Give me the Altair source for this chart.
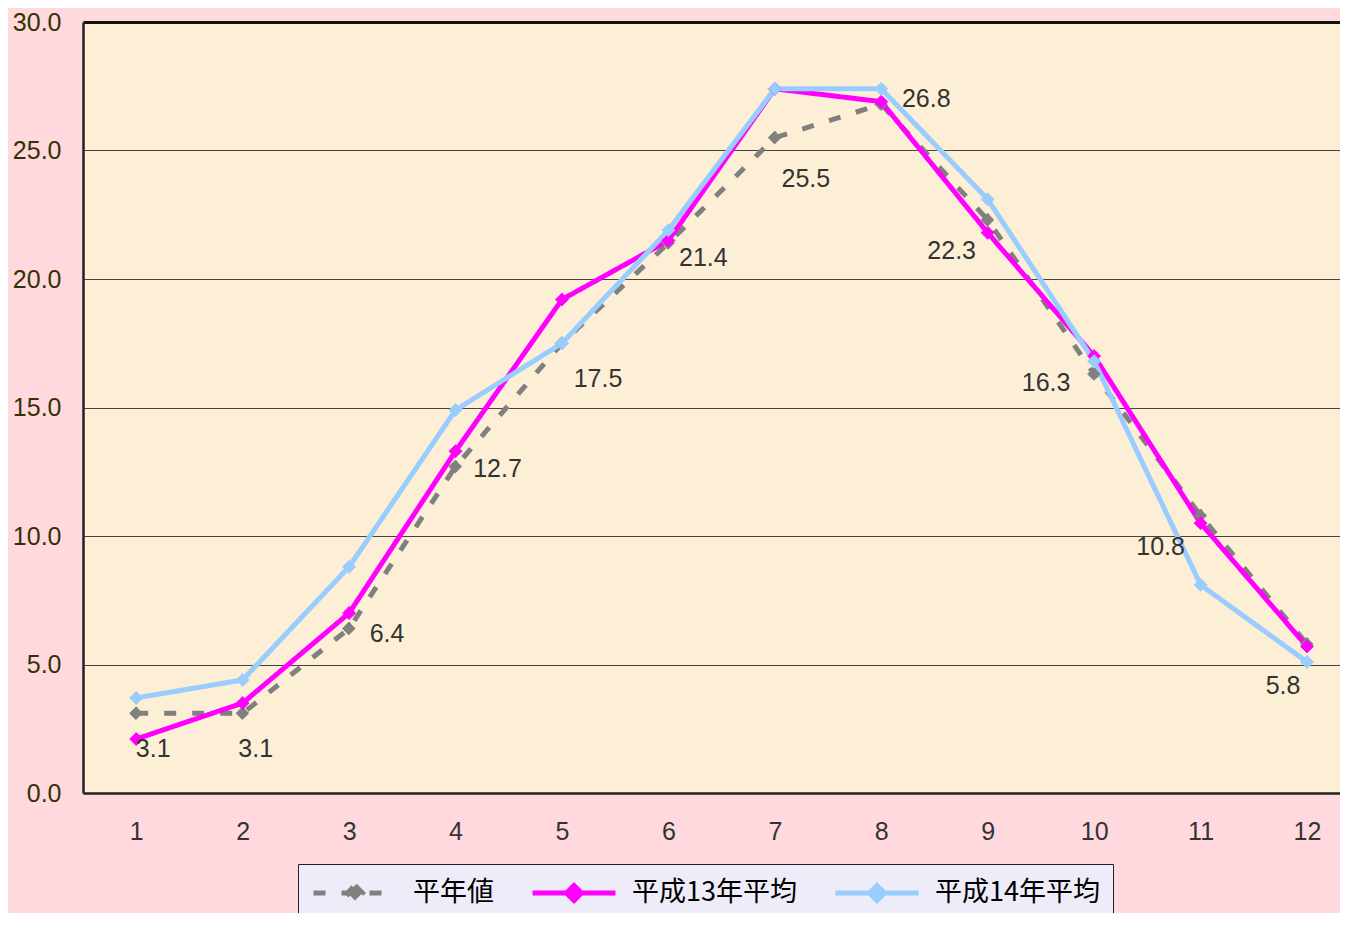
import altair as alt
import pandas as pd

# ---- data ----
months = list(range(1, 13))
series_names = ["平年値", "平成13年平均", "平成14年平均"]
normal = [3.1, 3.1, 6.4, 12.7, 17.5, 21.4, 25.5, 26.8, 22.3, 16.3, 10.8, 5.8]
h13 = [2.1, 3.5, 7.0, 13.3, 19.2, 21.5, 27.4, 26.9, 21.8, 17.0, 10.5, 5.7]
h14 = [3.7, 4.4, 8.8, 14.9, 17.5, 21.9, 27.4, 27.4, 23.1, 16.8, 8.1, 5.1]
y_ticks = [0, 5, 10, 15, 20, 25, 30]

rows = []
for name, vals in zip(series_names, [normal, h13, h14]):
    for m, v in zip(months, vals):
        rows.append({"month": m, "temp": v, "series": name})
df = pd.DataFrame(rows)
df_norm = pd.DataFrame({"month": months, "temp": normal})

# ---- style ----
colors = ["#808080", "#FF00FF", "#99CCFF"]
dashes = [[12, 16], [1, 0], [1, 0]]
label_offsets = [(17, 36), (13, 36), (38, 5), (42, 2), (36, 36), (35, 15),
                 (31, 41), (45, -5), (-36, 31), (-48, 9), (-40, 32), (-24, 42)]
FONT = "Liberation Sans, Arial, 'Noto Sans CJK JP'"
LEGFONT = "'Noto Sans CJK JP', Liberation Sans"

leg = alt.Legend(
    title=None, orient="none", legendX=215, legendY=842, direction="horizontal",
    symbolType="M-1,0L1,0M0,-0.18L0.18,0L0,0.18L-0.18,0Z",
    symbolSize=6889, symbolStrokeWidth=5, clipHeight=32,
    labelFont=LEGFONT, labelFontSize=27, labelColor="#000000",
    labelOffset=14, columnPadding=36, padding=13,
    fillColor="#EEECF8", strokeColor="#222222", labelLimit=400,
)

color_scale = alt.Scale(domain=series_names, range=colors)
dash_scale = alt.Scale(domain=series_names, range=dashes)

x_enc = alt.X("month:Q", scale=alt.Scale(domain=[0.5, 12.31], nice=False, zero=False),
              axis=alt.Axis(values=months, format="d", title=None, grid=False, ticks=False,
                            labelFont=FONT, labelFontSize=25, labelColor="#333333",
                            labelPadding=26, domainColor="#222222", domainWidth=2.5))
y_enc = alt.Y("temp:Q", scale=alt.Scale(domain=[0, 30], nice=False),
              axis=alt.Axis(values=y_ticks, format=".1f", title=None, ticks=False,
                            labelFont=FONT, labelFontSize=25, labelColor="#333300",
                            labelPadding=22, domainColor="#222222", domainWidth=2.5,
                            gridColor={"condition": {"test": "datum.value === 30", "value": "#111111"}, "value": "#444444"},
                            gridWidth={"condition": {"test": "datum.value === 30", "value": 3}, "value": 1}))

base = alt.Chart(df)

lines = base.mark_line(strokeWidth=5).encode(
    x=x_enc, y=y_enc,
    stroke=alt.Stroke("series:N", scale=color_scale, legend=leg),
    strokeDash=alt.StrokeDash("series:N", scale=dash_scale, legend=leg),
)

points = base.mark_point(shape="diamond", filled=True, size=170, strokeWidth=1, opacity=1).encode(
    x=x_enc, y=y_enc,
    fill=alt.Fill("series:N", scale=color_scale, legend=leg),
    stroke=alt.Stroke("series:N", scale=color_scale, legend=leg),
    strokeDash=alt.StrokeDash("series:N", scale=dash_scale, legend=leg),
)

label_layers = []
for m, (dx, dy) in zip(months, label_offsets):
    label_layers.append(
        alt.Chart(df_norm).transform_filter(alt.datum.month == m).mark_text(
            dx=dx, dy=dy, font=FONT, fontSize=25, color="#333333",
            align="center", baseline="middle",
        ).encode(x=alt.X("month:Q"), y=alt.Y("temp:Q"), text=alt.Text("temp:Q", format=".1f"))
    )

chart = alt.layer(lines, points, *label_layers).properties(
    width=1257, height=771,
    background="#FFD9DD",
    padding={"left": 75, "top": 14, "right": 0, "bottom": 120},
    autosize=alt.AutoSizeParams(type="none"),
).configure_view(fill="#FCEFD6", stroke=None)

chart.save("out.html", embed_options={"renderer": "svg", "actions": False})
